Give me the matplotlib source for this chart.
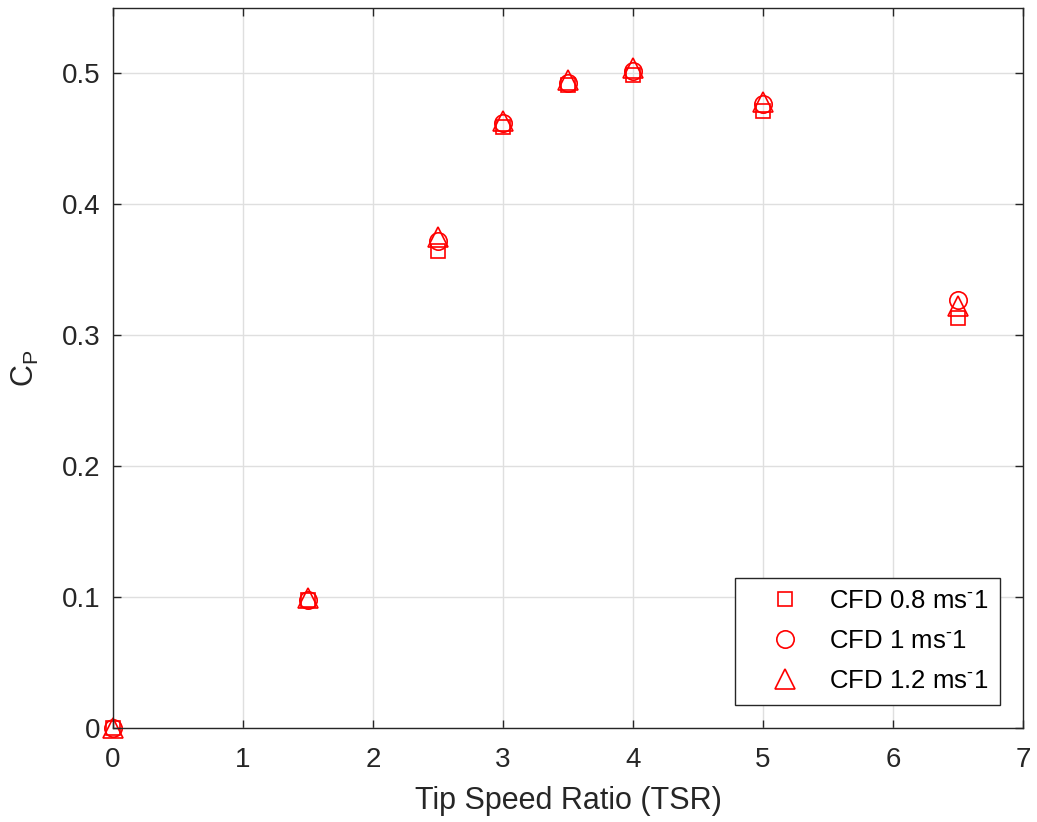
import numpy as np
import matplotlib.pyplot as plt

plt.rcParams['font.family'] = ['Liberation Sans', 'DejaVu Sans']
plt.rcParams['mathtext.fontset'] = 'custom'
plt.rcParams['mathtext.rm'] = 'Liberation Sans'
plt.rcParams['mathtext.default'] = 'regular'

# tip speed ratio and power coefficient for each inflow speed
tsr = [0, 1.5, 2.5, 3, 3.5, 4, 5, 6.5]
cp_08 = [0, 0.098, 0.364, 0.459, 0.491, 0.499, 0.471, 0.313]
cp_10 = [0, 0.098, 0.372, 0.462, 0.493, 0.502, 0.477, 0.327]
cp_12 = [0, 0.099, 0.375, 0.464, 0.495, 0.504, 0.478, 0.322]
labels = [r'CFD 0.8 ms$^{\text{-}}$1', r'CFD 1 ms$^{\text{-}}$1', r'CFD 1.2 ms$^{\text{-}}$1']

fig = plt.figure(figsize=(10.37, 8.22), dpi=100)
ax = fig.add_axes([0.109, 0.1144, 0.8775, 0.8759])

ax.plot(tsr, cp_08, 's', ms=9.5, mfc='none', mec='red', mew=1.2,
        clip_on=False, label=labels[0])
ax.plot(tsr, cp_10, 'o', ms=12.5, mfc='none', mec='red', mew=1.2,
        clip_on=False, label=labels[1])
ax.plot(tsr, cp_12, '^', ms=14, mfc='none', mec='red', mew=1.2,
        clip_on=False, label=labels[2])

ax.set_xlim(0, 7)
ax.set_ylim(0, 0.55)
ax.set_xticks(np.arange(0, 8, 1))
ax.set_yticks([0, 0.1, 0.2, 0.3, 0.4, 0.5])
ax.set_yticklabels(['0', '0.1', '0.2', '0.3', '0.4', '0.5'])

ax.grid(True, color='#dfdfdf', lw=1)
ax.set_axisbelow(True)
for s in ax.spines.values():
    s.set_color('#262626')
    s.set_linewidth(1)
ax.tick_params(direction='in', length=6, width=1, color='#262626',
               labelsize=20, labelcolor='#262626', top=True, right=True)
ax.tick_params(axis='x', pad=13.5)
ax.tick_params(axis='y', pad=9)

ax.set_xlabel('Tip Speed Ratio (TSR)', fontsize=22, color='#262626', labelpad=9.5)
ax.set_ylabel('$C_P$', fontsize=22, color='#262626', labelpad=15)

leg = ax.legend(loc='lower right', fontsize=18.5, fancybox=False, framealpha=1,
                edgecolor='#262626', borderaxespad=0.9, handletextpad=0.2,
                labelspacing=0.62, borderpad=0.45, handlelength=3.0)
leg.get_frame().set_linewidth(1)

fig.savefig('out.png', dpi=100)
